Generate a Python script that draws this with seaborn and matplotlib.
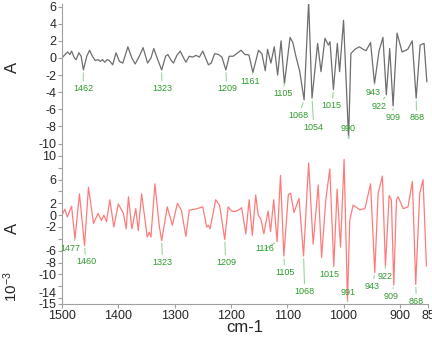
import numpy as np
import seaborn as sns
import matplotlib
matplotlib.use('Agg')
import matplotlib.pyplot as plt
from matplotlib.transforms import ScaledTranslation

# second derivative spectra (wavenumber cm-1, A)
top_wn = [1500, 1496, 1490, 1486, 1483, 1478, 1475, 1470, 1466, 1462, 1456, 1451, 1446, 1441,
          1436, 1432, 1428, 1424, 1420, 1416, 1410, 1404, 1398, 1392, 1383, 1376, 1370, 1362,
          1356, 1348, 1342, 1337, 1330, 1323, 1316, 1312, 1306, 1302, 1296, 1290, 1284, 1280,
          1274, 1268, 1262, 1256, 1250, 1245, 1240, 1235, 1229, 1222, 1216, 1209, 1203, 1196,
          1188, 1182, 1175, 1168, 1161, 1151, 1145, 1139, 1135, 1129, 1123, 1117, 1111, 1105,
          1095, 1090, 1085, 1078, 1070, 1062, 1056, 1046, 1040, 1033, 1027, 1024, 1018, 1011,
          1007, 1000, 991, 987, 980, 972, 965, 960, 952, 945, 937, 930, 924, 918, 912, 905,
          896, 886, 878, 871, 864, 857, 852]
top_a = [0.0, 0.3, 0.7, 0.4, 0.8, 0.0, -0.2, 0.6, 0.2, -1.4, 0.2, 0.9, 0.2, -0.3,
         -0.2, -0.4, -0.2, -0.5, -0.2, -0.3, -0.8, 0.6, -0.4, -0.6, 1.3, 0.0, -0.7, 0.3,
         1.2, -0.6, 0.0, 1.1, -0.2, -1.4, 0.2, 0.4, -0.3, -0.6, 0.3, 0.8, 0.0, -0.5,
         0.2, 0.1, 0.3, 0.1, 0.8, 0.0, -0.8, -0.6, 0.5, 0.4, 0.1, -1.4, 0.2, 0.2,
         0.6, 0.9, 0.4, 0.35, -1.7, 0.9, 0.5, -1.5, 1.0, -0.6, 1.3, -2.0, 2.0, -3.0,
         2.4, 1.8, 0.3, -1.5, -4.9, 6.6, -4.7, 1.7, -1.6, 2.3, 1.5, 1.9, -3.7, 1.7,
         -1.6, 4.4, -9.4, 0.5, 1.0, 1.3, 1.0, 0.85, 1.8, -3.0, 0.8, 2.4, -4.3, 1.1, -5.6, 2.9,
         0.7, 1.0, 2.0, -4.7, 1.5, 1.7, -2.8]

bot_wn = [1500, 1495, 1490.5, 1483, 1477, 1469, 1460, 1453, 1444, 1436, 1430, 1425.5, 1421,
          1415, 1408, 1400, 1391, 1386, 1382, 1376, 1369, 1364.5, 1358.6, 1348.6, 1345, 1342,
          1335, 1327, 1323, 1313, 1304, 1295, 1288, 1280, 1274, 1264, 1250, 1243, 1240, 1237,
          1227, 1220, 1211, 1205, 1199, 1193, 1187, 1181, 1173.5, 1167.6, 1162, 1156, 1151.6,
          1147, 1141.5, 1134, 1129.6, 1124, 1118, 1112, 1106, 1098, 1094, 1088, 1079, 1071,
          1062, 1054, 1045, 1039, 1031.5, 1024.4, 1017.3, 1011.4, 1005.4, 999, 993, 989, 983,
          971, 962, 952, 944.5, 938.6, 931, 925.6, 919, 915, 910.8, 906, 903, 894, 885.5,
          877.7, 871.8, 864.7, 858.8, 852.8]
bot_a = [0.0, 1.0, -0.3, 1.5, -4.0, 3.6, -5.15, 4.7, -1.4, 0.3, -0.9, 0.0, -1.1,
         2.6, -2.0, 1.9, 0.3, -2.3, 3.1, -2.3, 1.1, -2.6, 3.6, -3.7, -2.9, -3.7,
         5.3, -2.0, -4.3, 1.4, -1.7, 2.0, 0.85, -3.6, 0.85, 1.0, 1.4, -2.0, -1.7, -2.3,
         2.6, 1.6, -4.1, 1.4, 0.7, 0.6, 0.85, 1.25, -3.15, 2.6, -3.4, 3.4, 0.0,
         -0.6, -3.15, 0.7, -2.75, 2.6, -4.5, 6.7, -6.9, 3.5, 3.7, 0.45, 2.85, -6.9,
         8.8, -4.9, 5.1, -7.15, 2.6, 7.8, -8.6, 4.4, -5.4, 9.4, -14.6, -0.9, 1.7,
         0.9, 1.1, 5.3, -9.7, 3.7, 6.6, -8.6, 3.3, 2.6, -11.8, 2.6, 3.1, 1.1, 1.4,
         5.7, -11.7, 3.7, 6.0, -8.6]

# peak picks and where their labels sit
top_peaks = [1462, 1323, 1209, 1161, 1105, 1068, 1054, 1015, 990, 943, 922, 909, 868]
top_text_wn = [1462.7, 1322.5, 1207.2, 1166, 1108, 1079.4, 1052.8, 1020.9, 992.5, 948, 937.5, 912.6, 870]
top_text_a = [-3.6, -3.6, -3.6, -2.8, -4.2, -6.7, -8.1, -5.6, -8.2, -4.0, -5.7, -7.0, -7.0]

bot_peaks = [1477, 1460, 1323, 1209, 1116, 1105, 1068, 1015, 991, 943, 922, 909, 868]
bot_text_wn = [1484.6, 1457.4, 1321.3, 1209, 1139.8, 1104.3, 1068.8, 1025.6, 991.9, 948.7, 926.8, 914.9, 870.6]
bot_text_a = [-5.6, -7.9, -8.0, -8.0, -5.7, -9.7, -12.9, -10.1, -13.0, -12.0, -10.3, -13.7, -14.5]

x_ticks = [1500, 1400, 1300, 1200, 1100, 1000, 900, 850]
top_yticks = [6, 4, 2, 0, -2, -4, -6, -8, -10]
bot_yticks = [10, 8, 6, 4, 2, 0, -2, -4, -6, -8, -10, -12, -14, -15]
bot_ylabels = ['10', '', '6', '', '2', '0', '-2', '', '-6', '-8', '-10', '', '-14', '-15']

sns.set_style('ticks')
plt.rcParams['font.family'] = ['Liberation Sans', 'DejaVu Sans']
plt.rcParams['axes.unicode_minus'] = False

fig = plt.figure(figsize=(4.32, 3.42), dpi=100)
ax1 = fig.add_axes([62/432, 1 - 150/342, 366/432, 146/342])
ax2 = fig.add_axes([62/432, 1 - 304/342, 366/432, 154/342])

sns.lineplot(x=top_wn, y=top_a, ax=ax1, color='#6e6e6e', linewidth=0.9)
sns.lineplot(x=bot_wn, y=bot_a, ax=ax2, color='#ff7b7b', linewidth=0.9)


def label_peaks(ax, wn, a, peaks, tx, ty):
    wn = np.asarray(wn)
    a = np.asarray(a)
    for p, x, y in zip(peaks, tx, ty):
        near = np.abs(wn - p) <= 5
        i = np.argmin(np.where(near, a, np.inf))
        ax.annotate(str(p), xy=(wn[i], a[i]), xytext=(x, y), ha='center', va='center',
                    fontsize=6.5, color='#2f9a2f',
                    arrowprops=dict(arrowstyle='-', color='#9ad69a', lw=0.8,
                                    shrinkA=0, shrinkB=2))


label_peaks(ax1, top_wn, top_a, top_peaks, top_text_wn, top_text_a)
label_peaks(ax2, bot_wn, bot_a, bot_peaks, bot_text_wn, bot_text_a)

for ax in (ax1, ax2):
    ax.set_xlim(1500, 850)
    for s in ('top', 'right'):
        ax.spines[s].set_visible(False)
    ax.spines['left'].set_color('#a0a0a0')
    ax.spines['bottom'].set_color('#a0a0a0')
    ax.tick_params(axis='both', labelsize=9, length=3, width=0.8, pad=1, color='#a0a0a0')
    ax.set_xlabel('')
    ax.set_ylabel('')

ax1.set_ylim(-10.75, 6.3)
ax1.set_yticks(top_yticks)
ax1.set_yticklabels([str(v) for v in top_yticks])
ax1.spines['bottom'].set_visible(False)
ax1.set_xticks([])

ax2.set_ylim(-15, 11)
ax2.set_yticks(bot_yticks)
ax2.set_yticklabels(bot_ylabels)
ax2.set_xticks(x_ticks)
ax2.set_xticklabels([str(v) for v in x_ticks])
# the -14 label sits a bit higher than its tick
lab = ax2.get_yticklabels()[bot_yticks.index(-14)]
lab.set_transform(lab.get_transform() + ScaledTranslation(0, 4/72, fig.dpi_scale_trans))
# last x label runs off the right edge
lab = ax2.get_xticklabels()[-1]
lab.set_transform(lab.get_transform() + ScaledTranslation(3/72, 0, fig.dpi_scale_trans))

fig.text(245/432, 1 - 328/342, 'cm-1', ha='center', va='center', fontsize=12)
fig.text(12/432, 1 - 67/342, 'A', ha='center', va='center', rotation=90, fontsize=12)
fig.text(12/432, 1 - 228/342, 'A', ha='center', va='center', rotation=90, fontsize=12)
fig.text(11/432, 1 - 287/342, r'$\mathregular{10^{-3}}$', ha='center', va='center',
         rotation=90, fontsize=11)

fig.savefig('out.png', dpi=100)
